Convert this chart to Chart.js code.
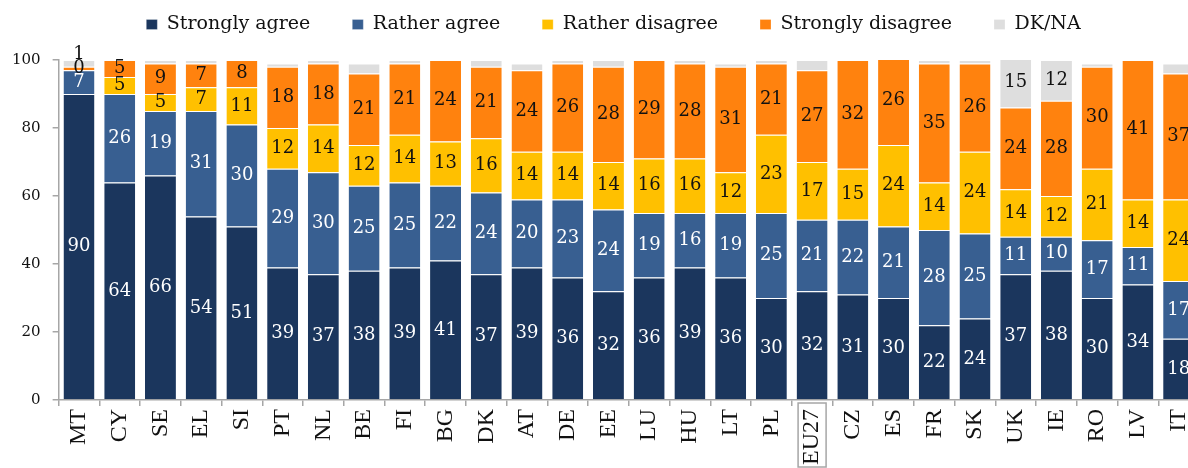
<!DOCTYPE html>
<html>
<head>
<meta charset="utf-8">
<script src="https://cdn.jsdelivr.net/npm/chart.js@4.4.1/dist/chart.umd.min.js"></script>
<style>
  html, body { margin: 0; padding: 0; background: #fff; overflow: hidden; }
  #wrap { width: 1212px; height: 468px; }
</style>
</head>
<body>
<div id="wrap"><canvas id="chart"></canvas></div>
<script>
// country order as in the survey chart
const countries = ['MT', 'CY', 'SE', 'EL', 'SI', 'PT', 'NL', 'BE', 'FI', 'BG', 'DK', 'AT', 'DE', 'EE',
    'LU', 'HU', 'LT', 'PL', 'EU27', 'CZ', 'ES', 'FR', 'SK', 'UK', 'IE', 'RO', 'LV', 'IT'];

const stronglyAgree    = [90, 64, 66, 54, 51, 39, 37, 38, 39, 41, 37, 39, 36, 32, 36, 39, 36, 30, 32, 31, 30, 22, 24, 37, 38, 30, 34, 18];
const ratherAgree      = [7, 26, 19, 31, 30, 29, 30, 25, 25, 22, 24, 20, 23, 24, 19, 16, 19, 25, 21, 22, 21, 28, 25, 11, 10, 17, 11, 17];
const ratherDisagree   = [0, 5, 5, 7, 11, 12, 14, 12, 14, 13, 16, 14, 14, 14, 16, 16, 12, 23, 17, 15, 24, 14, 24, 14, 12, 21, 14, 24];
const stronglyDisagree = [1, 5, 9, 7, 8, 18, 18, 21, 21, 24, 21, 24, 26, 28, 29, 28, 31, 21, 27, 32, 26, 35, 26, 24, 28, 30, 41, 37];
const dkNa             = [2, 0, 1, 1, 0, 1, 1, 3, 1, 0, 2, 2, 1, 2, 0, 1, 1, 1, 3, 0, 0, 1, 1, 15, 12, 1, 0, 3];

const yTicks = [0, 20, 40, 60, 80, 100];

const serif = "'DejaVu Serif', 'Liberation Serif', serif";
const axisGrey = '#a6a6a6';

// value labels in the middle of each segment, nudged up when they would collide
const segmentLabels = {
    id: 'segmentLabels',
    afterDatasetsDraw(chart) {
        const ctx = chart.ctx;
        ctx.save();
        ctx.font = "18px " + serif;
        ctx.textAlign = 'center';
        ctx.textBaseline = 'middle';
        for (let i = 0; i < countries.length; i++) {
            let prevY = Infinity;
            chart.data.datasets.forEach((ds, d) => {
                const meta = chart.getDatasetMeta(d);
                if (meta.hidden) return;
                const v = ds.data[i];
                if (d === 4 && v < 5) return;
                const el = meta.data[i];
                let y = (el.y + el.base) / 2;
                if (y > prevY - 14) y = prevY - 14;
                prevY = y;
                ctx.fillStyle = d < 2 ? '#ffffff' : '#111111';
                ctx.fillText(String(v), el.x, y);
            });
        }
        ctx.restore();
    }
};

// frame around the EU27 tick label
const euBox = {
    id: 'euBox',
    afterDraw(chart) {
        const x = chart.scales.x;
        const idx = countries.indexOf('EU27');
        const cx = x.getPixelForValue(idx);
        const ctx = chart.ctx;
        ctx.save();
        ctx.strokeStyle = axisGrey;
        ctx.lineWidth = 1.5;
        ctx.strokeRect(cx - 14, x.top + 3, 28, 64);
        ctx.restore();
    }
};

// more room under the legend row, and nudge the row to the right
const legendGap = {
    id: 'legendGap',
    beforeInit(chart) {
        const fit = chart.legend.fit;
        chart.legend.fit = function () {
            fit.call(this);
            this.height += 16;
        };
    },
    afterLayout(chart) {
        chart.legend.left += 14;
        chart.legend.right += 14;
    }
};

const barStyle = {
    borderColor: '#ffffff',
    borderWidth: { top: 1, bottom: 0, left: 0, right: 0 },
    borderSkipped: false,
    barPercentage: 0.76,
    categoryPercentage: 1.0
};

new Chart(document.getElementById('chart'), {
    type: 'bar',
    data: {
        labels: countries,
        datasets: [
            { label: 'Strongly agree', data: stronglyAgree, backgroundColor: '#1b365d', ...barStyle },
            { label: 'Rather agree', data: ratherAgree, backgroundColor: '#385f91', ...barStyle },
            { label: 'Rather disagree', data: ratherDisagree, backgroundColor: '#ffc000', ...barStyle },
            { label: 'Strongly disagree', data: stronglyDisagree, backgroundColor: '#ff820e', ...barStyle },
            { label: 'DK/NA', data: dkNa, backgroundColor: '#dedede', ...barStyle }
        ]
    },
    options: {
        responsive: true,
        maintainAspectRatio: false,
        animation: false,
        layout: { padding: { left: 0, right: 13, top: -27, bottom: 0 } },
        plugins: {
            legend: {
                position: 'top',
                labels: {
                    color: '#111',
                    font: { family: serif, size: 19 },
                    boxWidth: 11,
                    boxHeight: 10,
                    padding: 42
                }
            },
            tooltip: { enabled: false }
        },
        scales: {
            x: {
                stacked: true,
                grid: { offset: true, drawOnChartArea: false, drawTicks: true, tickLength: 6, color: axisGrey, lineWidth: 1.5 },
                border: { color: axisGrey, width: 1.5 },
                ticks: {
                    color: '#111',
                    font: { family: "'Liberation Serif', serif", size: 24 },
                    minRotation: 90,
                    maxRotation: 90,
                    autoSkip: false,
                    padding: 3
                }
            },
            y: {
                stacked: true,
                min: 0,
                max: 100,
                afterBuildTicks(scale) {
                    scale.ticks = yTicks.map(v => ({ value: v }));
                },
                grid: { drawOnChartArea: false, drawTicks: true, tickLength: 6, color: axisGrey, lineWidth: 1.5 },
                border: { color: axisGrey, width: 1.5 },
                ticks: {
                    color: '#111',
                    font: { family: serif, size: 15 },
                    padding: 12
                }
            }
        }
    },
    plugins: [segmentLabels, euBox, legendGap]
});
</script>
</body>
</html>
